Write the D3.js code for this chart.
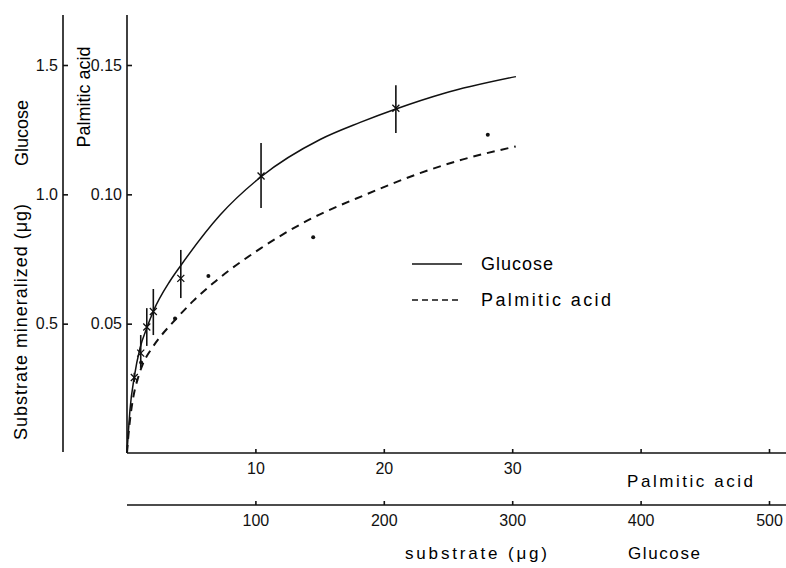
<!DOCTYPE html>
<html>
<head>
<meta charset="utf-8">
<script src="https://cdn.jsdelivr.net/npm/d3@7"></script>
<style>
body{margin:0;background:#fff;}
svg{display:block;font-family:"Liberation Sans",Arial,sans-serif;}
.axis path,.axis line{stroke:#111;stroke-width:1.6;}
.axis text{font-size:16px;fill:#111;font-family:"Liberation Sans",Arial,sans-serif;}
</style>
</head>
<body>
<div id="chart"></div>
<script>
// glucose: x in ug substrate, y in ug mineralized
var glucoseX  = [5.7, 10.7, 15.4, 20.5, 41.9, 104.4, 209.4];
var glucoseY  = [0.292, 0.386, 0.487, 0.547, 0.675, 1.071, 1.333];
var glucoseLo = [0.275, 0.329, 0.414, 0.456, 0.599, 0.947, 1.237];
var glucoseHi = [0.310, 0.456, 0.560, 0.634, 0.785, 1.198, 1.422];

// fitted curves
var glucoseFitX = [0, 1.0, 2.3, 5.7, 10.1, 15.4, 20.5, 33.5, 41.9, 72.5, 104.4, 150.4, 181.6, 209.4, 246.5, 302.9];
var glucoseFitY = [0, 0.077, 0.166, 0.295, 0.405, 0.483, 0.548, 0.665, 0.725, 0.920, 1.068, 1.212, 1.278, 1.330, 1.390, 1.455];

var palmDotX = [1.1, 3.74, 6.34, 14.5, 28.1];
var palmDotY = [0.035, 0.052, 0.0684, 0.0834, 0.123];

var palmFitX = [0, 0.078, 0.234, 0.491, 0.880, 1.269, 1.924, 2.570, 3.738, 5.164, 6.721, 10.436, 13.995, 18.692, 22.819, 26.168, 30.273];
var palmFitY = [0, 0.0050, 0.0128, 0.0216, 0.0294, 0.0348, 0.0404, 0.0448, 0.0514, 0.0588, 0.0657, 0.0792, 0.0897, 0.1001, 0.1082, 0.1135, 0.1185];

var palmXTicks = [10, 20, 30, 40, 50];
var palmXLabels = ["10", "20", "30", "", ""];
var glucXTicks = [100, 200, 300, 400, 500];
var glucYTicks = [0.5, 1.0, 1.5];
var palmYTicks = [0.05, 0.10, 0.15];

var width = 786, height = 568;

var xP = d3.scaleLinear().domain([0, 50]).range([127, 769]);
var xG = d3.scaleLinear().domain([0, 500]).range([127, 769]);
var yP = d3.scaleLinear().domain([0, 0.15]).range([453, 65]);
var yG = d3.scaleLinear().domain([0, 1.5]).range([453, 65]);

var svg = d3.select("#chart").append("svg")
    .attr("width", width)
    .attr("height", height);

svg.append("rect").attr("width", width).attr("height", height).attr("fill", "#fff");

// y axes
var gy1 = svg.append("g").attr("class", "axis")
    .attr("transform", "translate(63,0)")
    .call(d3.axisLeft(yG).tickValues(glucYTicks).tickFormat(d3.format(".1f"))
        .tickSize(-5).tickSizeOuter(0).tickPadding(5));
gy1.select(".domain").attr("d", "M0,15V452");

var gy2 = svg.append("g").attr("class", "axis")
    .attr("transform", "translate(127,0)")
    .call(d3.axisLeft(yP).tickValues(palmYTicks).tickFormat(d3.format(".2f"))
        .tickSize(-5).tickSizeOuter(0).tickPadding(5));
gy2.select(".domain").attr("d", "M0,15V453");

// x axes
var gx1 = svg.append("g").attr("class", "axis")
    .attr("transform", "translate(0,453)")
    .call(d3.axisBottom(xP).tickValues(palmXTicks)
        .tickFormat(function(d, i){ return palmXLabels[i]; })
        .tickSize(-4).tickSizeOuter(0).tickPadding(10));
gx1.select(".domain").attr("d", "M127,0H786");

var gx2 = svg.append("g").attr("class", "axis")
    .attr("transform", "translate(0,505)")
    .call(d3.axisBottom(xG).tickValues(glucXTicks).tickFormat(d3.format("d"))
        .tickSize(-4).tickSizeOuter(0).tickPadding(10));
gx2.select(".domain").attr("d", "M127,0H786");

// axis titles
svg.append("text")
    .attr("transform", "translate(27,322) rotate(-90)")
    .attr("text-anchor", "middle")
    .attr("font-size", 18)
    .attr("textLength", 236).attr("lengthAdjust", "spacing")
    .text("Substrate mineralized (μg)");
svg.append("text")
    .attr("transform", "translate(28,133) rotate(-90)")
    .attr("text-anchor", "middle")
    .attr("font-size", 18)
    .text("Glucose");
svg.append("text")
    .attr("transform", "translate(90,97) rotate(-90)")
    .attr("text-anchor", "middle")
    .attr("font-size", 18)
    .text("Palmitic acid");

svg.append("text").attr("x", 627).attr("y", 487)
    .attr("font-size", 17).attr("textLength", 126).attr("lengthAdjust", "spacing")
    .text("Palmitic acid");
svg.append("text").attr("x", 628).attr("y", 559)
    .attr("font-size", 17).attr("textLength", 72).attr("lengthAdjust", "spacing")
    .text("Glucose");
svg.append("text").attr("x", 405).attr("y", 559)
    .attr("font-size", 17).attr("textLength", 142).attr("lengthAdjust", "spacing")
    .text("substrate (μg)");

// curves
var gFit = glucoseFitX.map(function(d, i){ return {x: d, y: glucoseFitY[i]}; });
var pFit = palmFitX.map(function(d, i){ return {x: d, y: palmFitY[i]}; });

svg.append("path")
    .datum(gFit)
    .attr("fill", "none").attr("stroke", "#111").attr("stroke-width", 1.5)
    .attr("d", d3.line().x(d => xG(d.x)).y(d => yG(d.y)).curve(d3.curveMonotoneX));

svg.append("path")
    .datum(pFit)
    .attr("fill", "none").attr("stroke", "#111").attr("stroke-width", 2)
    .attr("stroke-dasharray", "8,6")
    .attr("d", d3.line().x(d => xP(d.x)).y(d => yP(d.y)).curve(d3.curveMonotoneX));

// glucose points with error bars
var gPts = glucoseX.map(function(d, i){
    return {x: d, y: glucoseY[i], lo: glucoseLo[i], hi: glucoseHi[i]};
});
var gp = svg.selectAll(".gpt").data(gPts).enter().append("g").attr("class", "gpt");
gp.append("line")
    .attr("x1", d => xG(d.x)).attr("x2", d => xG(d.x))
    .attr("y1", d => yG(d.lo)).attr("y2", d => yG(d.hi))
    .attr("stroke", "#111").attr("stroke-width", 1.6);
gp.append("path")
    .attr("d", function(d){
        var cx = xG(d.x), cy = yG(d.y), s = 3.5;
        return "M" + (cx - s) + "," + (cy - s) + "L" + (cx + s) + "," + (cy + s) +
               "M" + (cx - s) + "," + (cy + s) + "L" + (cx + s) + "," + (cy - s);
    })
    .attr("stroke", "#111").attr("stroke-width", 1.3);

// palmitic acid points
svg.selectAll(".ppt")
    .data(palmDotX.map(function(d, i){ return {x: d, y: palmDotY[i]}; }))
    .enter().append("circle")
    .attr("class", "ppt")
    .attr("cx", d => xP(d.x)).attr("cy", d => yP(d.y))
    .attr("r", 2).attr("fill", "#111");

// legend
var legend = [
    {name: "Glucose", dash: null, y: 264, tl: 72},
    {name: "Palmitic acid", dash: "6,4", y: 300, tl: 130}
];
var lg = svg.selectAll(".lg").data(legend).enter().append("g").attr("class", "lg");
lg.append("line")
    .attr("x1", 412).attr("x2", 462)
    .attr("y1", d => d.y).attr("y2", d => d.y)
    .attr("stroke", "#111").attr("stroke-width", 1.6)
    .attr("stroke-dasharray", d => d.dash);
lg.append("text")
    .attr("x", 481).attr("y", d => d.y + 6)
    .attr("font-size", 18)
    .attr("textLength", d => d.tl).attr("lengthAdjust", "spacing")
    .text(d => d.name);
</script>
</body>
</html>
